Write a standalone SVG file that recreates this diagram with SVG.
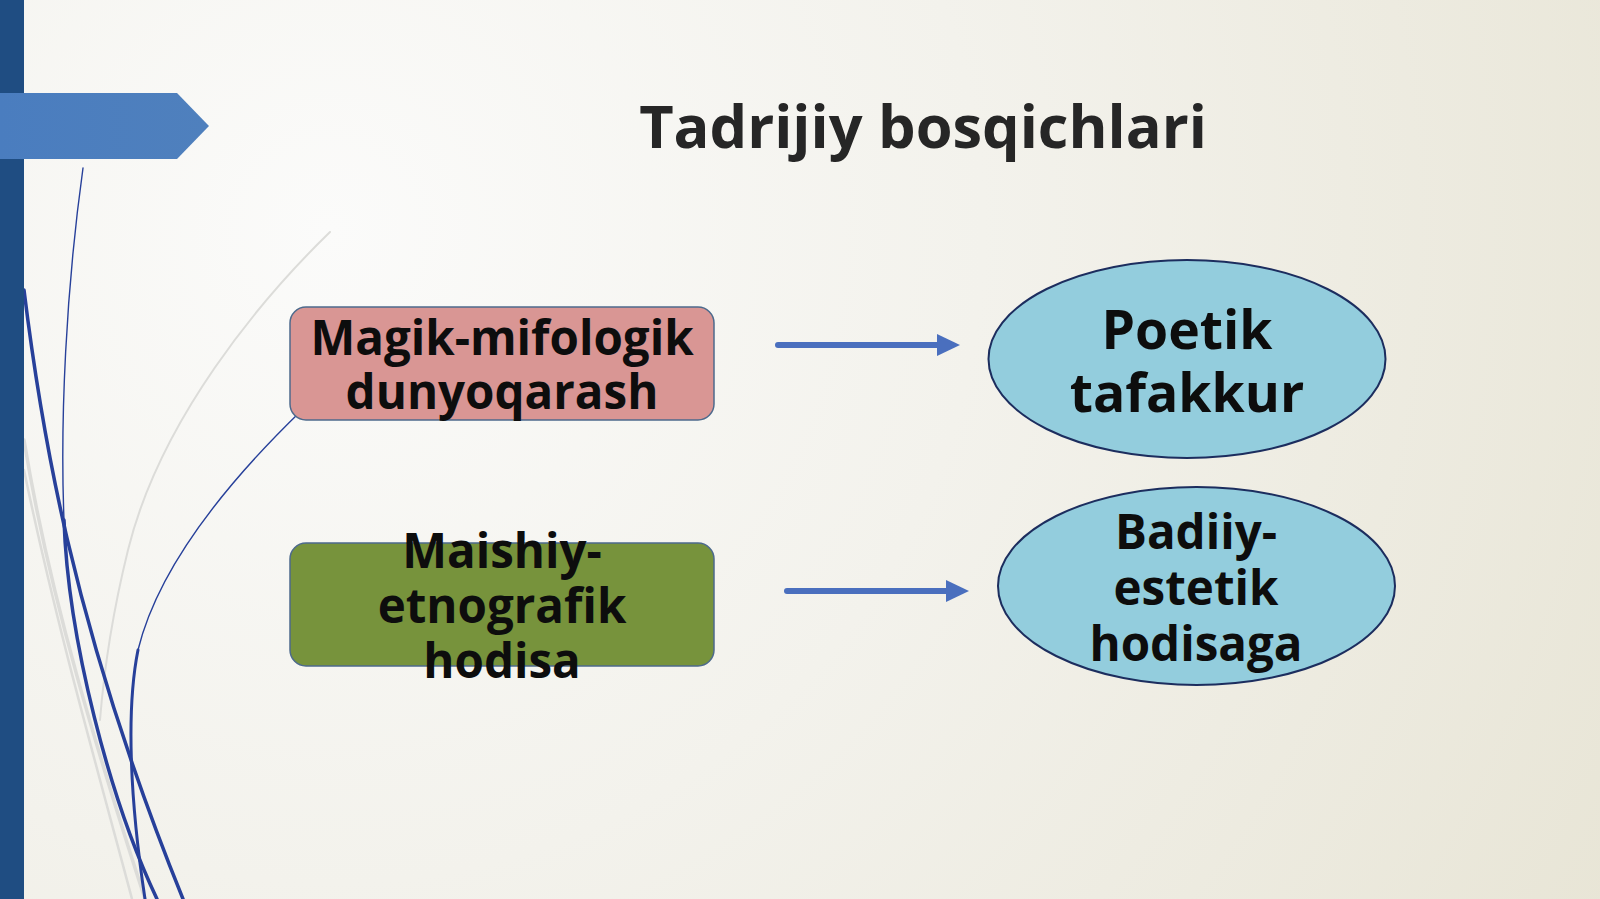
<svg xmlns="http://www.w3.org/2000/svg" width="1600" height="899" viewBox="0 0 1600 899">
<defs>
<radialGradient id="bg" cx="330" cy="230" r="1450" gradientUnits="userSpaceOnUse">
<stop offset="0" stop-color="#fbfbfa"/>
<stop offset="0.45" stop-color="#f3f2ec"/>
<stop offset="1" stop-color="#e8e5d6"/>
</radialGradient>
<linearGradient id="tab" x1="0" y1="0" x2="1" y2="0">
<stop offset="0" stop-color="#4a7dbf"/>
<stop offset="1" stop-color="#4f80bd"/>
</linearGradient>
<style>
.lbl{font-family:"Open Sans","Noto Sans","Liberation Sans",sans-serif;font-weight:bold;fill:#0d0d0d;text-anchor:middle}
.grey{fill:none;stroke:#dcdcd9;stroke-linecap:round}
.navy{fill:none;stroke:#27409a;stroke-linecap:round}
.conn{fill:none;stroke:#4a6fbe;stroke-width:6;stroke-linecap:round}
</style>
</defs>
<rect x="0" y="0" width="1600" height="899" fill="url(#bg)"/>

<g id="decor">
<path class="grey" d="M330,232 C260,300 160,420 128,550 C112,615 104,670 100,720" stroke-width="2"/>
<path class="grey" d="M24,440 C50,600 100,760 145,899" stroke-width="3.5"/>
<path class="grey" d="M24,470 C55,620 95,760 132,899" stroke-width="2.5"/>
<path class="navy" d="M24,290 C40,420 70,620 183,899" stroke-width="3.5"/>
<path class="navy" d="M83,168 C66,290 60,420 64,520" stroke-width="1.4" stroke="#1c2550"/>
<path class="navy" d="M64,520 C68,640 110,800 157,899" stroke-width="3.5"/>
<path class="navy" d="M302,410 C240,470 160,560 138,650" stroke-width="1.4" stroke="#1f2f6a"/>
<path class="navy" d="M138,650 C126,710 130,800 145,899" stroke-width="3"/>
<rect x="0" y="0" width="24" height="899" fill="#1f4d82"/>
<polygon points="0,93 177,93 209,126 177,159 0,159" fill="url(#tab)"/>
</g>

<g id="title">
<text class="lbl" x="923" y="148" font-size="59.5" style="fill:#262626">Tadrijiy bosqichlari</text>
</g>

<g id="node-magik">
<rect x="290" y="307" width="424" height="113" rx="16" fill="#d99694" stroke="#4d6a8c" stroke-width="1.5"/>
<text class="lbl" font-size="47.5"><tspan x="502" y="355">Magik-mifologik</tspan><tspan x="502" y="409">dunyoqarash</tspan></text>
</g>

<g id="node-maishiy">
<rect x="290" y="543" width="424" height="123" rx="16" fill="#77933c" stroke="#4d6a8c" stroke-width="1.5"/>
<text class="lbl" font-size="47.5"><tspan x="502" y="568">Maishiy-</tspan><tspan x="502" y="623">etnografik</tspan><tspan x="502" y="678">hodisa</tspan></text>
</g>

<g id="node-poetik">
<ellipse cx="1187" cy="359" rx="198.5" ry="99" fill="#93cddd" stroke="#1c2d5e" stroke-width="2"/>
<text class="lbl" font-size="53.5"><tspan x="1187" y="349">Poetik</tspan><tspan x="1187" y="412">tafakkur</tspan></text>
</g>

<g id="node-badiiy">
<ellipse cx="1196.5" cy="586" rx="198.5" ry="99" fill="#93cddd" stroke="#1c2d5e" stroke-width="2"/>
<text class="lbl" font-size="47.5"><tspan x="1196" y="549">Badiiy-</tspan><tspan x="1196" y="605">estetik</tspan><tspan x="1196" y="661">hodisaga</tspan></text>
</g>

<g id="connectors">
<path class="conn" d="M778,345 L940,345"/>
<polygon points="937,334 960,345 937,356" fill="#4a6fbe"/>
<path class="conn" d="M787,591 L949,591"/>
<polygon points="946,580 969,591 946,602" fill="#4a6fbe"/>
</g>
</svg>
